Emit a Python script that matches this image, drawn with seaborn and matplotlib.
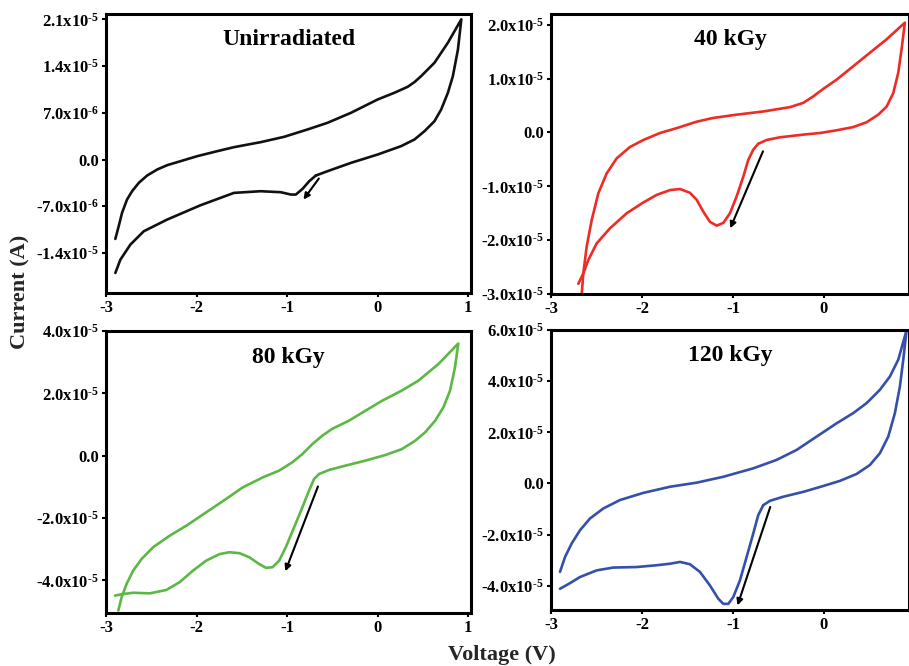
import numpy as np
import pandas as pd
import matplotlib
matplotlib.use("Agg")
import matplotlib.pyplot as plt
import seaborn as sns

# ---------------- data (voltage in V, current in 1e-6 A) ----------------
titles = ["Unirradiated", "40 kGy", "80 kGy", "120 kGy"]
colors = ["#111111", "#ee2b24", "#5cb845", "#3450a8"]

# Unirradiated: segment 1 = start -> negative end (lower branch); segment 2 = upper branch -> tip -> lower branch
v0 = [-0.683, -0.756, -0.830, -0.904, -0.959, -1.070, -1.292, -1.587, -1.956, -2.325, -2.583, -2.731, -2.841, -2.897,
      None,
      -2.897, -2.860, -2.823, -2.768, -2.712, -2.638, -2.546, -2.435, -2.325, -2.177, -1.993, -1.771, -1.587, -1.292,
      -1.033, -0.775, -0.554, -0.295, 0.0, 0.185, 0.332, 0.406, 0.48, 0.627, 0.775, 0.923,
      0.886, 0.830, 0.775, 0.701, 0.627, 0.517, 0.406, 0.258, 0.0, -0.295, -0.554, -0.683]
i0 = [-2.4, -3.25, -4.4, -5.25, -5.25, -4.9, -4.75, -5.0, -6.85, -9.0, -10.75, -12.75, -15.0, -17.0,
      None,
      -11.9, -10.0, -8.0, -6.0, -4.75, -3.5, -2.4, -1.5, -0.85, -0.25, 0.5, 1.25, 1.85, 2.6,
      3.4, 4.5, 5.5, 7.0, 9.0, 10.0, 10.9, 11.6, 12.5, 14.5, 17.5, 21.0,
      16.5, 12.5, 10.0, 7.5, 5.75, 4.25, 3.0, 2.0, 0.75, -0.5, -1.75, -2.4]

v1 = [-0.722, -0.777, -0.832, -0.886, -0.960, -1.033, -1.106, -1.179, -1.253, -1.326, -1.399, -1.473, -1.582,
      -1.692, -1.839, -1.985, -2.168, -2.352, -2.498, -2.590, -2.645, -2.700,
      None,
      -2.663, -2.645, -2.608, -2.553, -2.480, -2.388, -2.278, -2.132, -1.985, -1.802, -1.619, -1.399, -1.216,
      -0.960, -0.667, -0.374, -0.227, -0.117, -0.007, 0.139, 0.322, 0.505, 0.689, 0.890,
      0.853, 0.817, 0.762, 0.689, 0.597, 0.469, 0.322, 0.139, -0.044, -0.227, -0.484, -0.630, -0.722]
i1 = [-2.1, -3.2, -5.1, -8.2, -11.9, -15.0, -16.8, -17.3, -16.6, -14.7, -12.5, -11.2, -10.5,
      -10.7, -11.6, -13.0, -15.0, -17.8, -20.6, -23.7, -26.2, -28.1,
      None,
      -30.2, -26.2, -21.2, -16.3, -11.3, -7.6, -4.8, -2.7, -1.4, -0.1, 0.8, 2.0, 2.7,
      3.3, 3.9, 4.7, 5.5, 6.7, 8.1, 9.8, 12.3, 14.8, 17.3, 20.4,
      15.4, 11.1, 7.3, 4.8, 3.3, 1.9, 1.0, 0.4, -0.1, -0.4, -0.9, -1.4, -2.1]

v2 = [-0.648, -0.703, -0.758, -0.832, -0.923, -1.015, -1.088, -1.161, -1.234, -1.308, -1.418, -1.527, -1.637,
      -1.747, -1.894, -2.040, -2.187, -2.333, -2.516, -2.700, -2.810, -2.901,
      None,
      -2.864, -2.828, -2.773, -2.700, -2.608, -2.480, -2.297, -2.114, -1.894, -1.674, -1.491, -1.271, -1.088,
      -0.941, -0.832, -0.722, -0.612, -0.502, -0.319, -0.136, 0.048, 0.267, 0.451, 0.670, 0.890,
      0.853, 0.799, 0.725, 0.634, 0.524, 0.414, 0.267, 0.084, -0.136, -0.355, -0.538, -0.648]
i2 = [-5.9, -7.5, -11.2, -16.6, -23.0, -29.4, -33.7, -35.8, -36.0, -34.8, -32.6, -31.3, -31.0,
      -31.6, -33.7, -36.9, -40.6, -43.1, -44.2, -44.0, -44.4, -44.9,
      None,
      -49.7, -45.5, -41.2, -36.9, -33.2, -29.4, -25.7, -22.5, -18.2, -13.9, -10.2, -7.0, -4.8,
      -2.1, 0.5, 3.7, 6.4, 8.6, 11.2, 14.4, 17.6, 20.9, 24.1, 29.4, 36.0,
      28.3, 20.9, 15.5, 11.2, 7.5, 4.8, 2.1, 0.2, -1.6, -3.2, -4.6, -5.9]

v3 = [-0.667, -0.722, -0.777, -0.850, -0.923, -0.996, -1.051, -1.106, -1.161, -1.253, -1.363, -1.473, -1.582,
      -1.692, -1.839, -2.059, -2.315, -2.498, -2.681, -2.791, -2.901,
      None,
      -2.901, -2.846, -2.773, -2.681, -2.571, -2.425, -2.242, -1.985, -1.692, -1.399, -1.106, -0.777, -0.520,
      -0.300, -0.081, 0.139, 0.322, 0.469, 0.615, 0.725, 0.817, 0.908,
      0.872, 0.835, 0.780, 0.707, 0.615, 0.505, 0.359, 0.176, -0.007, -0.227, -0.447, -0.593, -0.667]
i3 = [-8.5, -12.4, -19.6, -28.8, -37.9, -44.4, -47.1, -47.1, -45.1, -39.9, -34.6, -31.6, -30.7,
      -31.4, -32.0, -32.7, -32.9, -34.0, -36.6, -39.0, -41.2,
      None,
      -34.6, -28.8, -23.5, -18.3, -13.7, -9.8, -6.5, -3.7, -1.3, 0.3, 2.6, 5.9, 9.2,
      13.1, 18.3, 23.5, 27.5, 31.4, 36.6, 41.8, 48.4, 59.9,
      48.4, 37.9, 27.5, 18.3, 11.8, 7.2, 3.7, 1.0, -1.0, -3.3, -5.2, -6.8, -8.5]

voltages = [v0, v1, v2, v3]
currents = [i0, i1, i2, i3]

# scan-direction arrows: (V start, I start, V end, I end) in V and 1e-6 A
arrows = [(-0.65, -2.85, -0.82, -6.0),
          (-0.67, -3.5, -1.03, -17.8),
          (-0.66, -9.9, -1.02, -37.1),
          (-0.59, -9.2, -0.95, -47.7)]

yticks = [[-14, -7, 0, 7, 14, 21],
          [-30, -20, -10, 0, 10, 20],
          [-40, -20, 0, 20, 40],
          [-40, -20, 0, 20, 40, 60]]
ytick_labels = [["-1.4x10$^{\\text{-5}}$", "-7.0x10$^{\\text{-6}}$", "0.0", "7.0x10$^{\\text{-6}}$",
                 "1.4x10$^{\\text{-5}}$", "2.1x10$^{\\text{-5}}$"],
                ["-3.0x10$^{\\text{-5}}$", "-2.0x10$^{\\text{-5}}$", "-1.0x10$^{\\text{-5}}$", "0.0",
                 "1.0x10$^{\\text{-5}}$", "2.0x10$^{\\text{-5}}$"],
                ["-4.0x10$^{\\text{-5}}$", "-2.0x10$^{\\text{-5}}$", "0.0", "2.0x10$^{\\text{-5}}$",
                 "4.0x10$^{\\text{-5}}$"],
                ["-4.0x10$^{\\text{-5}}$", "-2.0x10$^{\\text{-5}}$", "0.0", "2.0x10$^{\\text{-5}}$",
                 "4.0x10$^{\\text{-5}}$", "6.0x10$^{\\text{-5}}$"]]
ylims = [(-20.0, 21.8), (-30.0, 22.0), (-50.5, 40.0), (-49.5, 60.0)]
xticks_list = [[-3, -2, -1, 0, 1], [-3, -2, -1, 0], [-3, -2, -1, 0, 1], [-3, -2, -1, 0]]
xlims = [(-3, 1.03), (-3, 0.935), (-3, 1.03), (-3, 0.935)]

# ---------------- style ----------------
sns.set_theme(style="ticks")
plt.rcParams["font.family"] = ["Liberation Serif", "DejaVu Serif"]
plt.rcParams["font.weight"] = "bold"
plt.rcParams["mathtext.fontset"] = "custom"
plt.rcParams["mathtext.rm"] = "Liberation Serif:bold"
plt.rcParams["mathtext.it"] = "Liberation Serif:bold"
plt.rcParams["mathtext.bf"] = "Liberation Serif:bold"
plt.rcParams["mathtext.default"] = "rm"

W, H = 909, 666
fig = plt.figure(figsize=(W / 100, H / 100), dpi=100)

# axes boxes in pixels: left, top, right, bottom
boxes = [(106, 14, 471, 293), (551, 14, 909, 294), (106, 331, 471, 613), (551, 330, 909, 610)]

for k in range(4):
    l, t, r, b = boxes[k]
    ax = fig.add_axes([l / W, 1 - b / H, (r - l) / W, (b - t) / H])
    vv = np.array([np.nan if v is None else v for v in voltages[k]], dtype=float)
    ii = np.array([np.nan if v is None else v for v in currents[k]], dtype=float)
    df = pd.DataFrame({"V": vv, "I": ii})
    df["seg"] = df["V"].isna().cumsum()
    for s, part in df.dropna().groupby("seg"):
        sns.lineplot(data=part, x="V", y="I", sort=False, estimator=None,
                     color=colors[k], lw=1.9, ax=ax, solid_joinstyle="round",
                     solid_capstyle="round")
    ax.set_xlim(*xlims[k])
    ax.set_ylim(*ylims[k])
    ax.set_xticks(xticks_list[k])
    ax.set_xticklabels([str(x) for x in xticks_list[k]])
    ax.set_yticks(yticks[k])
    ax.set_yticklabels(ytick_labels[k])
    ax.set_xlabel("")
    ax.set_ylabel("")
    for sp in ax.spines.values():
        sp.set_visible(True)
        sp.set_linewidth(2.2)
        sp.set_color("black")
    ax.tick_params(direction="out", length=3, width=1.5, labelsize=12, pad=2, colors="black")
    for lab in ax.get_xticklabels() + ax.get_yticklabels():
        lab.set_fontweight("bold")
    a = arrows[k]
    ax.annotate("", xy=(a[2], a[3]), xytext=(a[0], a[1]),
                arrowprops=dict(arrowstyle="-|>", color="black", lw=1.5,
                                mutation_scale=9, shrinkA=0, shrinkB=0))
    ax.text(0.5, 0.945, titles[k], transform=ax.transAxes, ha="center", va="top",
            fontsize=17, fontweight="bold", color="black")

fig.text(20 / W, 1 - 292 / H, "Current (A)", rotation=90, ha="center", va="center",
         fontsize=16, fontweight="bold")
fig.text(502 / W, 1 - 655 / H, "Voltage (V)", ha="center", va="center",
         fontsize=16, fontweight="bold")

fig.savefig("out.png", dpi=100, facecolor="white")
